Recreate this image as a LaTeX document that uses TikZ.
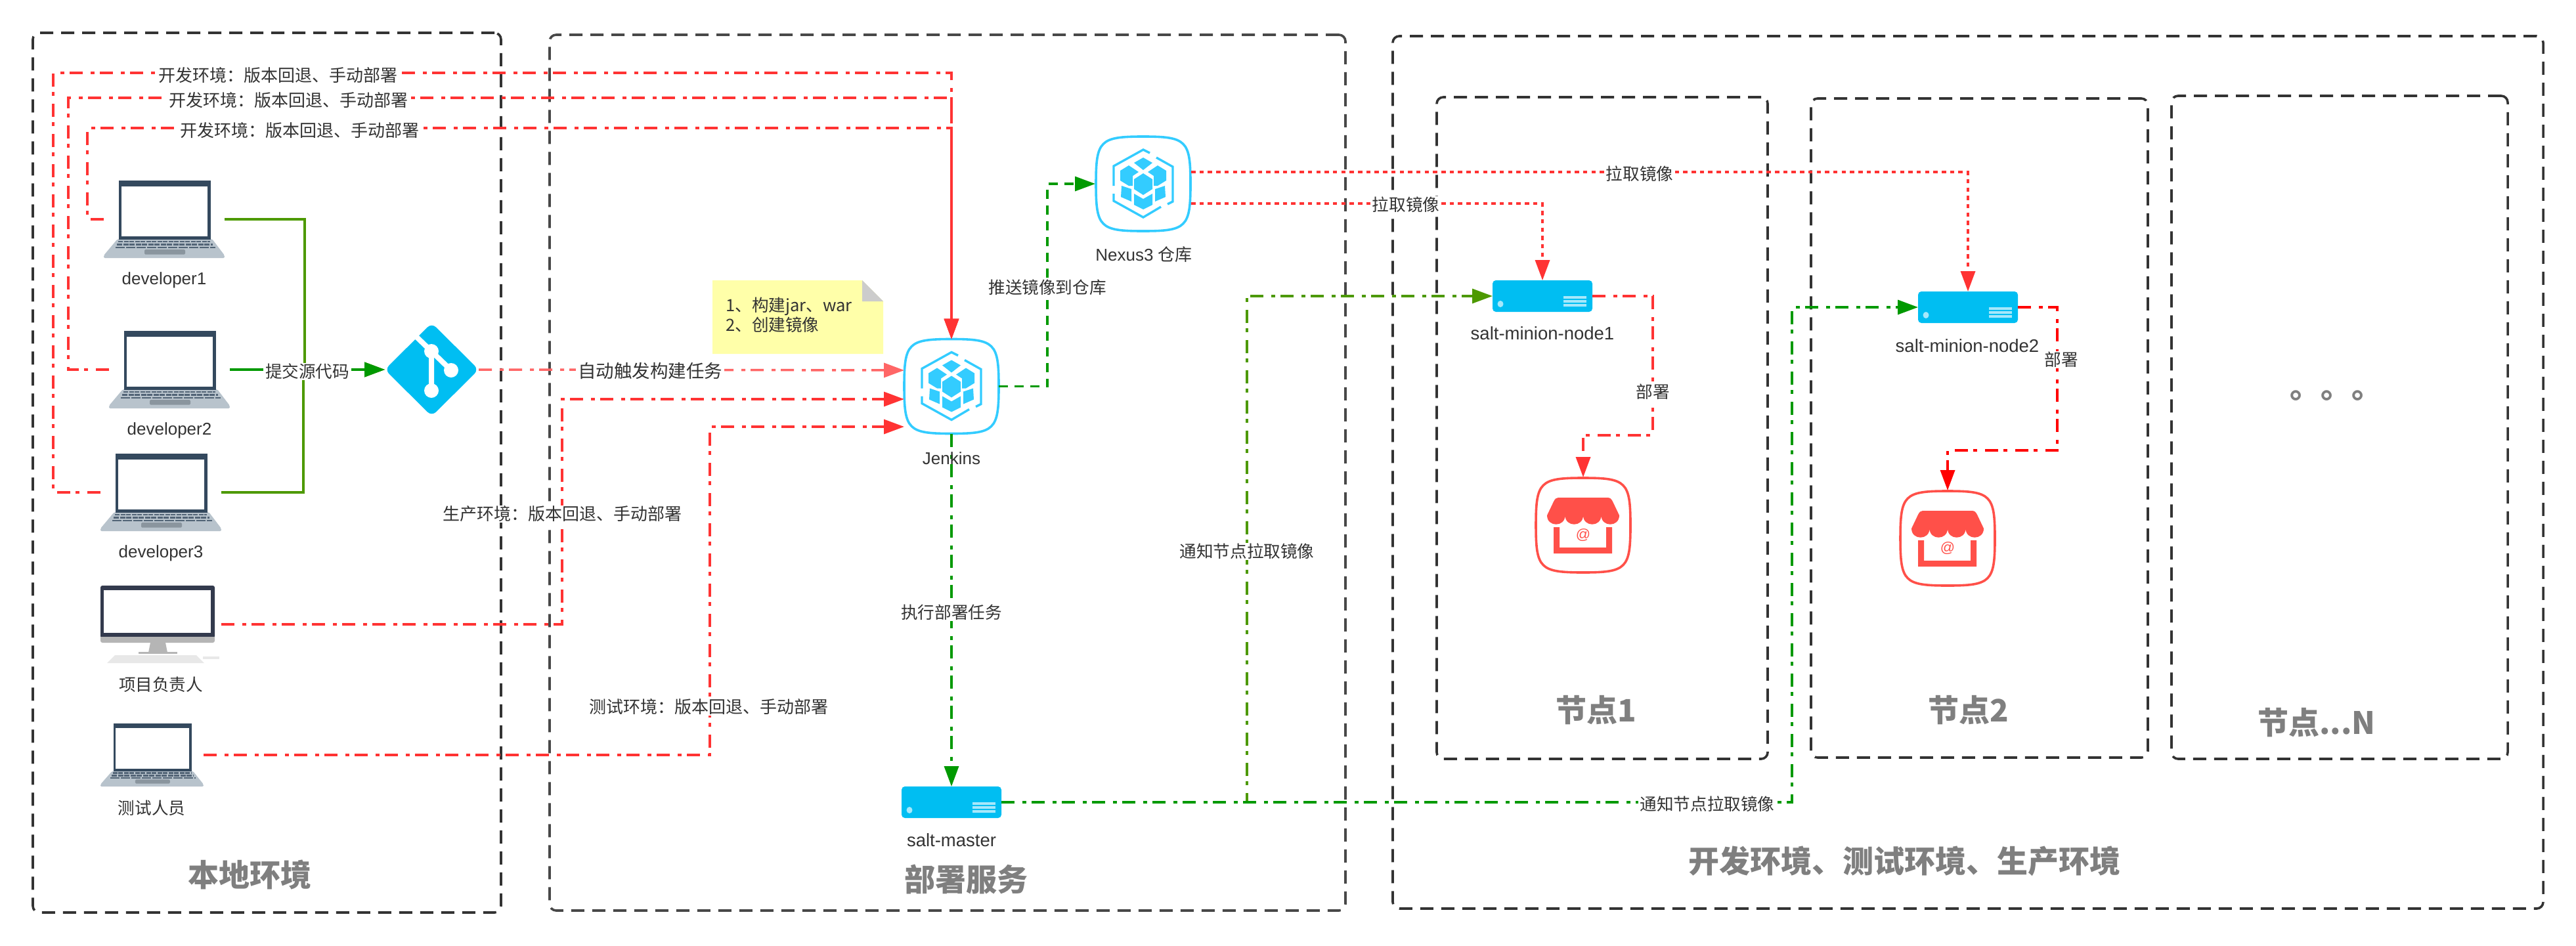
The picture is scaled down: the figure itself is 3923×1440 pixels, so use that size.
\documentclass[tikz,border=0pt]{standalone}
\usepackage{fontspec}
\setmainfont{Liberation Sans}
\newfontfamily\cjk{Noto Sans CJK SC}
\usetikzlibrary{arrows.meta}
\definecolor{ink}{HTML}{333333}
\definecolor{boxdark}{HTML}{333333}
\definecolor{boxmid}{HTML}{484848}
\definecolor{titlegray}{HTML}{7F7F7F}
\definecolor{lred}{HTML}{FF3333}
\definecolor{lpink}{HTML}{FF6666}
\definecolor{lpure}{HTML}{FF0000}
\definecolor{lgreen}{HTML}{009900}
\definecolor{lolive}{HTML}{4D9900}
\definecolor{sky}{HTML}{00BEF2}
\definecolor{cube}{HTML}{33CCFF}
\definecolor{shop}{HTML}{FF5049}
\definecolor{srvlines}{HTML}{A6E8FB}
\definecolor{lapdark}{HTML}{34495E}
\definecolor{lapgray}{HTML}{B8C3CC}
\definecolor{lappad}{HTML}{8A959E}
\definecolor{monitordark}{HTML}{333A4D}
\definecolor{monitorgray}{HTML}{B5B5B5}
\definecolor{notefill}{HTML}{FFFFA9}
\tikzset{
  zone/.style={draw=boxdark,line width=3.6pt,dash pattern=on 20pt off 12pt,rounded corners=10pt,
    inner sep=0pt,outer sep=0pt,anchor=north west},
  spot/.style={inner sep=0pt,outer sep=0pt,draw=none},
  lnk/.style={line width=3.5pt},
  dashdotline/.style={lnk,dash pattern=on 20pt off 12pt on 6pt off 8pt},
  dashline/.style={lnk,dash pattern=on 14pt off 10pt},
  dotline/.style={lnk,dash pattern=on 6.5pt off 6.2pt},
  tipped/.style={-{Triangle[length=31pt,width=22pt]}},
  name lab/.style={text=ink,inner sep=0pt,font=\fontsize{26}{30}\selectfont},
  zh lab/.style={text=ink,inner sep=0pt,font=\cjk\fontsize{25.6}{30}\selectfont},
  edge lab/.style={text=ink,fill=white,inner xsep=3pt,inner ysep=1pt,font=\cjk\fontsize{25.6}{30}\selectfont},
  env lab/.style={text=ink,fill=white,inner xsep=3pt,inner ysep=1pt,font=\cjk\fontsize{26}{30}\selectfont},
  title lab/.style={text=titlegray,inner sep=0pt,font=\cjk\bfseries\fontsize{47}{50}\selectfont},
  laptop/.pic={
    \fill[lapgray,rounded corners=2pt] (21,89) -- (165,89) -- (184,114) -- (184,118) -- (0,118) -- (0,114) -- cycle;
    \fill[lapdark] (23,0) rectangle (163,90);
    \fill[white] (27,9) rectangle (158,85);
    \draw[lapdark!85!white,line width=2.6pt,dash pattern=on 7pt off 1.5pt] (22,93) -- (162,93);
    \draw[lapdark!85!white,line width=2.6pt,dash pattern=on 8pt off 1.5pt] (20,97.5) -- (166,97.5);
    \draw[lapdark!85!white,line width=2.6pt,dash pattern=on 14pt off 2pt] (18,102) -- (170,102);
    \fill[lappad,rounded corners=1.5pt] (62,105) rectangle (124,112.5);
  },
  desktop/.pic={
    \fill[monitordark,rounded corners=3pt] (0,0) rectangle (174,80);
    \fill[white] (5,7) rectangle (168,72);
    \fill[monitorgray,rounded corners=3pt] (0,78) rectangle (174,87);
    \fill[monitorgray] (0,78) rectangle (174,82);
    \fill[monitorgray] (76,87) -- (99,87) -- (102,102) -- (73,102) -- cycle;
    \fill[monitorgray] (58,101) rectangle (117,103.5);
    \fill[black!9] (22,106) -- (146,106) -- (158,118) -- (10,118) -- cycle;
    \fill[black!9] (156,108) rectangle (181,112);
  },
  server/.pic={
    \fill[sky,rounded corners=5pt] (0,0) rectangle (152,48);
    \fill[srvlines] (12,36) ellipse [x radius=4.5pt,y radius=5pt];
    \fill[srvlines] (108,24) rectangle (143,27.5);
    \fill[srvlines] (108,30) rectangle (143,33.5);
    \fill[srvlines] (108,36) rectangle (143,39.5);
  },
  squircle/.style={line width=3.6pt},
  cubeicon/.pic={
    \draw[cube,squircle] (0,-72) .. controls (66,-72) and (72,-66) .. (72,0)
       .. controls (72,66) and (66,72) .. (0,72)
       .. controls (-66,72) and (-72,66) .. (-72,0)
       .. controls (-72,-66) and (-66,-72) .. (0,-72) -- cycle;
    \draw[cube,line width=3.4pt,line join=miter] (-45,3) -- (-45,-27) -- (0,-52) -- (10,-47);
    \draw[cube,line width=3.4pt,line join=miter] (20,-40) -- (45,-26) -- (45,27) -- (37,31);
    \draw[cube,line width=3.4pt,line join=miter] (27,35) -- (0,51) -- (-45,26) -- (-45,15);
    \fill[cube] (0,-40) -- (14,-32) -- (0,-21) -- (-14,-32) -- cycle;
    \fill[cube] (0,-16) -- (14,-7) -- (14,8) -- (0,17) -- (-14,8) -- (-14,-7) -- cycle;
    \fill[cube] (-22,-28) -- (-7,-18) -- (-16,-12) -- (-16,3) -- (-22,3) -- (-35,-5) -- (-35,-20) -- cycle;
    \fill[cube] (22,-28) -- (7,-18) -- (16,-12) -- (16,3) -- (22,3) -- (35,-5) -- (35,-20) -- cycle;
    \fill[cube] (-33,3) -- (-18,8) -- (-18,27) -- (-34,20) -- cycle;
    \fill[cube] (33,3) -- (18,8) -- (18,27) -- (34,20) -- cycle;
    \fill[cube] (-14,15) -- (0,23) -- (14,15) -- (14,32) -- (0,39) -- (-14,32) -- cycle;
  },
  shopicon/.pic={
    \draw[shop,squircle] (0,-72) .. controls (66,-72) and (72,-66) .. (72,0)
       .. controls (72,66) and (66,72) .. (0,72)
       .. controls (-66,72) and (-72,66) .. (-72,0)
       .. controls (-72,-66) and (-66,-72) .. (0,-72) -- cycle;
    \fill[shop] (-38,-42) -- (37,-42) .. controls (41,-42) and (43,-40) .. (45,-36) -- (55,-15)
       .. controls (55,3.3) and (27.5,3.3) .. (27.5,-15)
       .. controls (27.5,3.3) and (0,3.3) .. (0,-15)
       .. controls (0,3.3) and (-27.5,3.3) .. (-27.5,-15)
       .. controls (-27.5,3.3) and (-55,3.3) .. (-55,-15) -- (-45,-36) .. controls (-43,-40) and (-41,-42) .. (-38,-42) -- cycle;
    \fill[shop] (-45,3) -- (-36,3) -- (-36,34) -- (35,34) -- (35,3) -- (44,3) -- (44,43) -- (-45,43) -- cycle;
  },
}
\begin{document}
\begin{tikzpicture}[x=1pt,y=-1pt]
\useasboundingbox[fill=white] (0,0) rectangle (3923,1440);

% zones
\node[zone,minimum width=713pt,minimum height=1340pt] (local) at (50,50) {};
\node[zone,draw=boxmid,minimum width=1212pt,minimum height=1334pt] (deploy) at (837,53) {};
\node[zone,minimum width=1752pt,minimum height=1329pt] (envs) at (2121,55) {};
\node[zone,minimum width=504pt,minimum height=1008pt] (node1) at (2188,148) {};
\node[zone,minimum width=513pt,minimum height=1004pt] (node2) at (2758,150) {};
\node[zone,minimum width=512pt,minimum height=1010pt] (nodeN) at (3307,146) {};

% icons
\node[spot,minimum width=184pt,minimum height=118pt] (dev1) at (250,334) {};
\pic at (dev1.north west) {laptop};
\node[spot,minimum width=184pt,minimum height=118pt] (dev2) at (258,563) {};
\pic at (dev2.north west) {laptop};
\node[spot,minimum width=184pt,minimum height=118pt] (dev3) at (245,750) {};
\pic at (dev3.north west) {laptop};
\node[spot,minimum width=184pt,minimum height=118pt] (lead) at (245,951) {};
\pic at (lead.north west) {desktop};
\node[spot,minimum width=157pt,minimum height=96pt] (tester) at (231.5,1150) {};
\pic[xscale=.853,yscale=.814] at (tester.north west) {laptop};

\node[spot,minimum width=143pt,minimum height=142pt] (git) at (657.5,563) {};
\fill[sky,rounded corners=9pt] (git.north) -- (git.east) -- (git.south) -- (git.west) -- cycle;
\draw[white,line width=8pt] (633,512) -- (657,535) -- (657,595);
\draw[white,line width=8pt] (657,535) -- (687,564);
\fill[white] (657,535) circle[radius=11pt] (687,564) circle[radius=11pt] (657,595) circle[radius=11pt];

\node[spot,minimum width=144pt,minimum height=144pt] (jenkins) at (1449,588.5) {};
\pic at (jenkins.center) {cubeicon};
\node[spot,minimum width=146pt,minimum height=146pt] (nexus) at (1741,280) {};
\pic at (nexus.center) {cubeicon};

\node[spot,minimum width=152pt,minimum height=48pt] (master) at (1449,1222) {};
\pic at (master.north west) {server};
\node[spot,minimum width=152pt,minimum height=48pt] (minion1) at (2349,451) {};
\pic at (minion1.north west) {server};
\node[spot,minimum width=152pt,minimum height=48pt] (minion2) at (2997,468) {};
\pic at (minion2.north west) {server};

\node[spot,minimum width=146pt,minimum height=146pt] (shop1) at (2411,800) {};
\pic at (shop1.center) {shopicon};
\node[text=shop,inner sep=0pt,font=\fontsize{22}{24}\selectfont] (at1) at (2411,815) {@};
\node[spot,minimum width=146pt,minimum height=146pt] (shop2) at (2966,820) {};
\pic at (shop2.center) {shopicon};
\node[text=shop,inner sep=0pt,font=\fontsize{22}{24}\selectfont] (at2) at (2966,835) {@};

% note
\node[spot,minimum width=260pt,minimum height=112pt,anchor=north west] (note) at (1085,427) {};
\fill[notefill] (note.north west) -- (1313,427) -- (1345,459) -- (note.south east) -- (note.south west) -- cycle;
\fill[black!20] (1313,427) -- (1345,459) -- (1313,459) -- cycle;
\node[text=ink,inner sep=0pt,anchor=west,align=left,font=\cjk\fontsize{25.6}{30}\selectfont] (notetext) at (1105,480) {1、构建jar、war\\2、创建镜像};

% red developer lines
\draw[dashdotline,lred,tipped] (dev3.west) -- (81,750) -- (81,111) -- (1449,111) -- (jenkins.north);
\draw[dashdotline,lred,tipped] (dev2.west) -- (104,563) -- (104,149) -- (1449,149) -- (jenkins.north);
\draw[dashdotline,lred,tipped] (dev1.west) -- (133,334) -- (133,195) -- (1449,195) -- (jenkins.north);

% commits
\draw[lnk,lolive,tipped] (dev1.east) -- (464,334) -- (464,563) -- (git.west);
\draw[lnk,lolive,tipped] (dev3.east) -- (462,750) -- (462,563) -- (git.west);
\draw[lnk,lgreen,tipped] (dev2.east) -- (git.west);

% to jenkins
\draw[dashdotline,lpink,tipped] (git.east) -- (jenkins.west |- 0,564);
\draw[dashdotline,lred,tipped] (lead.east) -- (856,951) -- (856,608) -- (jenkins.west |- 0,608);
\draw[dashdotline,lred,tipped] (tester.east) -- (1081,1150) -- (1081,650) -- (jenkins.west |- 0,650);

% deploy chain
\draw[dashline,lgreen,tipped] (jenkins.east) -- (1595,588.5) -- (1595,280) -- (nexus.west);
\draw[dashdotline,lgreen,tipped] (jenkins.south) -- (master.north);
\draw[dotline,lred,tipped] (nexus.east |- 0,262) -- (2997,262) -- (minion2.north);
\draw[dotline,lred,tipped] (nexus.east |- 0,310) -- (2349,310) -- (minion1.north);
\draw[dashdotline,lolive,tipped] (master.east) -- (1899,1222) -- (1899,451) -- (minion1.west);
\draw[dashdotline,lgreen,tipped] (master.east) -- (2729,1222) -- (2729,468) -- (minion2.west);
\draw[dashdotline,lred,tipped] (minion1.east) -- (2517,451) -- (2517,663) -- (2411,663) -- (shop1.north);
\draw[dashdotline,lpure,tipped] (minion2.east) -- (3133,468) -- (3133,686) -- (2966,686) -- (shop2.north);

% node names
\node[name lab] (ldev1) at (250,427) {developer1};
\node[name lab] (ldev2) at (258,656) {developer2};
\node[name lab] (ldev3) at (245,843) {developer3};
\node[zh lab] (llead) at (245,1043) {项目负责人};
\node[zh lab] (ltester) at (231,1231) {测试人员};
\node[name lab] (ljenkins) at (1449,698) {Jenkins};
\node[name lab] (lnexus) at (1742,388) {Nexus3 {\cjk 仓库}};
\node[name lab,font=\fontsize{27.5}{30}\selectfont] (lmaster) at (1449,1280) {salt-master};
\node[name lab,font=\fontsize{27.5}{30}\selectfont] (lmin1) at (2349,508) {salt-minion-node1};
\node[name lab,font=\fontsize{27.5}{30}\selectfont] (lmin2) at (2996,527) {salt-minion-node2};

% edge labels
\node[env lab] (e1) at (423,115) {开发环境：版本回退、手动部署};
\node[env lab] (e2) at (439,153) {开发环境：版本回退、手动部署};
\node[env lab] (e3) at (456,199) {开发环境：版本回退、手动部署};
\node[env lab] (e4) at (856,783) {生产环境：版本回退、手动部署};
\node[env lab] (e5) at (1079,1077) {测试环境：版本回退、手动部署};
\node[edge lab] (e6) at (468,566) {提交源代码};
\node[edge lab,font=\cjk\fontsize{27.5}{30}\selectfont] (e7) at (990,565) {自动触发构建任务};
\node[edge lab] (e8) at (1595,438) {推送镜像到仓库};
\node[edge lab] (e9) at (1449,933) {执行部署任务};
\node[edge lab] (e10) at (1899,840) {通知节点拉取镜像};
\node[edge lab] (e11) at (2600,1225) {通知节点拉取镜像};
\node[edge lab] (e12) at (2497,265) {拉取镜像};
\node[edge lab] (e13) at (2141,312) {拉取镜像};
\node[edge lab] (e14) at (2517,597) {部署};
\node[edge lab] (e15) at (3139,548) {部署};

% titles
\node[title lab] (t1) at (380,1332) {本地环境};
\node[title lab] (t2) at (1471,1339) {部署服务};
\node[title lab] (t3) at (2900,1312) {开发环境、测试环境、生产环境};
\node[title lab] (t4) at (2431,1082) {节点1};
\node[title lab] (t5) at (2998,1082) {节点2};
\node[title lab] (t6) at (3528,1101) {节点...N};
\node[title lab,anchor=base west] (t7) at (3487,606) {。。。};
\end{tikzpicture}
\end{document}
